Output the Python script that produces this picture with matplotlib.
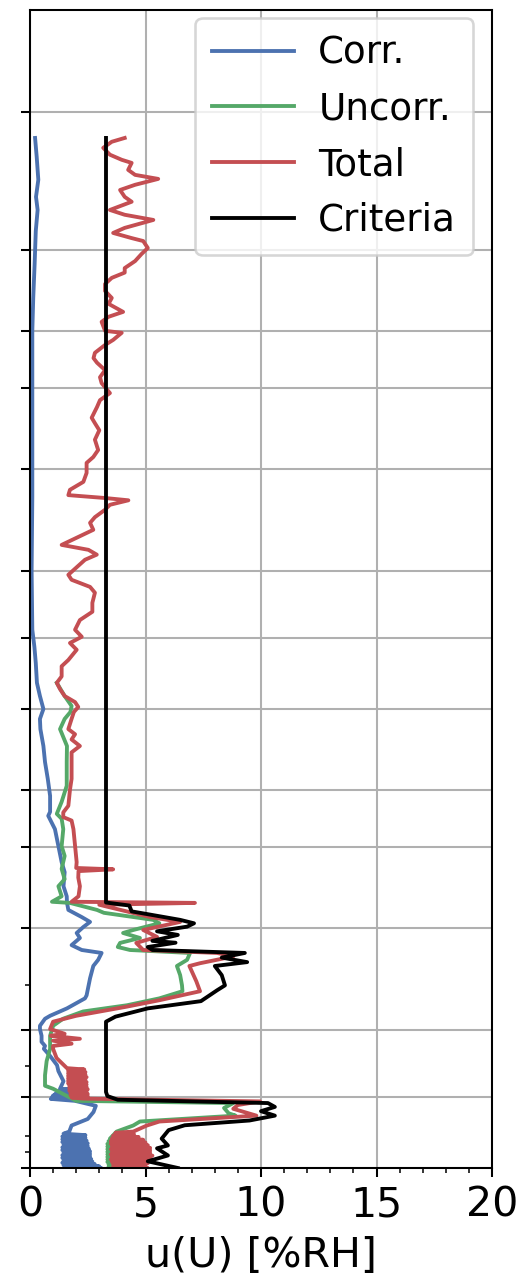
import matplotlib
matplotlib.use("Agg")
import matplotlib.pyplot as plt
from matplotlib.ticker import FixedLocator, NullFormatter

# ---------------- data (pressure in hPa, uncertainty in %RH) ----------------
corr_p = [5.70, 6.27, 7.03, 7.66, 8.18, 9.09, 10.73, 12.72, 15.0, 20.9, 24.7, 34.5,
          50.0, 67.2, 73.2, 79.4, 87.7, 93.7, 100.0, 105.1, 110.6, 120.4, 130.5,
          142, 154.6, 167.5, 170.9, 182.7, 199, 215.6, 226.7, 243.3, 255.9, 264,
          274, 284, 291, 298.5, 307.6, 315.4, 326.9, 335, 340, 352, 363, 386,
          420.6, 427, 449, 466, 473, 490, 498, 515, 531, 542, 550, 570, 597, 615,
          647, 672,
          674, 677, 680, 683, 686, 689, 692, 695, 698, 701, 704, 707,
          714, 732, 755, 782, 808, 833,
          842, 848, 854, 860, 866, 872, 878, 884, 890, 896, 902, 908, 914, 920,
          926, 932, 938, 944, 950, 956, 962, 968, 974, 980, 986, 992, 998, 1000]
corr_v = [0.22, 0.29, 0.36, 0.26, 0.33, 0.25, 0.20, 0.14, 0.10, 0.10, 0.10, 0.10,
          0.07, 0.10, 0.19, 0.25, 0.30, 0.43, 0.58, 0.43, 0.45, 0.58, 0.65,
          0.77, 0.87, 0.87, 0.79, 1.08, 1.23, 1.37, 1.50, 1.45, 1.59, 1.60,
          1.66, 2.24, 2.60, 2.31, 2.02, 2.16, 1.80, 2.24, 3.10, 2.95, 2.74, 2.60,
          2.45, 2.38, 1.60, 0.87, 0.65, 0.43, 0.43, 0.50, 0.50, 0.65, 0.60, 0.87,
          1.17, 1.23, 1.45, 1.30,
          1.80, 1.30, 1.85, 1.20, 1.90, 1.10, 1.90, 1.00, 1.95, 0.95, 1.95, 0.90,
          1.95, 2.85, 2.75, 2.50, 1.80, 1.70,
          1.45, 2.40, 1.40, 2.40, 1.40, 2.45, 1.40, 2.50, 1.45, 2.50, 1.40, 2.55,
          1.40, 2.60, 1.45, 2.60, 1.40, 2.60, 1.40, 2.65, 1.45, 2.70, 1.40, 2.80,
          1.45, 3.00, 1.50, 3.05]

uncorr_p = [87.7, 93.7, 98.5, 101.5, 105.1, 110.6, 120.4, 130.5, 147, 159.3, 169.2,
            173.4, 182.7, 199, 209, 223, 234.8, 243.3, 255.9, 263, 264.5, 274,
            278, 288, 293, 303, 307.6, 315.4, 323.3, 330, 335, 340, 352, 363, 380,
            400, 412, 427, 442, 456, 473, 490, 515, 550, 585, 628, 662, 672, 697,
            714, 722, 740, 760, 769, 792, 808, 833, 863,
            868, 874, 880, 886, 892, 898, 904, 910, 916, 922, 928, 934, 940, 946,
            952, 958, 964, 970, 976, 982, 988, 994, 1000]
uncorr_v = [1.16, 1.50, 1.80, 1.75, 1.50, 1.30, 1.60, 1.59, 1.59, 1.37, 1.16,
            1.37, 1.44, 1.37, 1.50, 1.37, 1.50, 1.23, 1.37, 0.95, 1.73, 2.90,
            3.20, 5.33, 5.60, 4.47, 4.03, 4.76, 3.90, 3.80, 4.33, 6.93, 6.80, 6.36, 6.50,
            6.58, 6.60, 5.60, 4.20, 2.30, 1.43, 1.00, 0.87, 0.87, 0.72, 0.65, 0.65, 1.00, 1.60,
            2.00, 8.80, 8.40, 8.60, 8.90, 4.76, 4.47, 3.75, 3.46,
            4.30, 3.40, 4.30, 3.35, 4.30, 3.35, 4.35, 3.35, 4.35, 3.35, 4.40, 3.35,
            4.40, 3.35, 4.40, 3.35, 4.40, 3.35, 4.40, 3.40, 4.40, 3.40, 3.40]

total_p = [5.70, 5.81, 5.99, 6.20, 6.36, 6.46, 6.69, 6.86, 7.00, 7.21, 7.40, 7.66,
           7.85, 8.18, 8.38, 8.60, 8.95, 9.18, 9.42, 9.56, 9.90, 10.2, 10.57, 10.95,
           11.2, 11.5, 11.86, 12.28, 12.72, 13.1, 13.64, 13.98, 14.34, 15.0, 15.15,
           15.7, 16.1, 16.75, 17.2, 17.6, 18.27, 18.93, 19.5, 20.5, 21.24, 21.99,
           23.2, 23.84, 24.7, 25.9, 27.27, 28.25, 29.1, 30.6, 32.0, 33.3, 34.2,
           34.7, 35.1, 35.9, 36.8, 38.2, 39.3, 40.7, 42.2, 43.9, 45.0, 46.1, 47.3,
           49.1, 51.0, 52.3, 54.2, 55.8, 58.7, 61.4, 64.0, 67.2, 69.6, 71.8, 74.3,
           78.2, 80.7, 84.9, 87.7, 90.5, 93.7, 96.6, 99.0, 101.5, 105.1, 110.6,
           113.5, 116.5, 120.4, 124.3, 130.5, 142, 150, 162.5, 168, 172, 175, 182.7,
           199, 215.6, 222, 223.5, 225.5, 233, 243.3, 255.9, 263, 264.5, 267, 269.5,
           284, 291, 303, 313.7, 323.3, 335, 340, 346, 358, 363, 392, 412, 431, 445,
           466, 480, 498, 510, 515, 523, 528, 536, 542, 550, 576,
           606, 610, 614, 618, 622, 626, 630, 634, 638, 642, 646, 650, 654, 658,
           662, 666, 670, 674, 678, 682, 686, 690, 694, 698, 702, 706,
           716, 729, 743, 769, 792, 808, 833,
           838, 844, 850, 856, 862, 868, 874, 880, 886, 892, 898, 904, 910, 916,
           922, 928, 934, 940, 946, 952, 958, 964, 970, 976, 982, 988, 994, 1000]
total_v = [4.10, 3.54, 3.17, 3.46, 3.97, 4.40, 4.25, 4.55, 5.55, 4.55, 3.90, 4.10,
           4.40, 3.46, 4.10, 5.34, 4.10, 3.60, 4.40, 4.90, 5.10, 4.83, 4.55, 4.10,
           4.10, 3.54, 3.25, 3.25, 3.54, 3.40, 4.03, 3.40, 3.10, 3.25, 3.97,
           3.60, 3.25, 2.81, 2.75, 2.90, 3.25, 3.03, 3.10, 3.46, 3.03, 2.90,
           2.67, 2.81, 3.00, 2.81, 2.95, 2.74, 2.45, 2.45, 2.31, 1.73, 1.66,
           3.25, 4.26, 3.46, 3.25, 2.81, 2.60, 2.74, 2.09, 1.37, 2.53, 2.89, 2.38,
           2.02, 1.66, 1.80, 2.60, 2.81, 2.70, 2.70, 2.16, 1.95, 2.24, 1.73, 2.02,
           1.66, 1.37, 1.37, 1.16, 1.30, 1.50, 1.95, 2.09, 1.90, 1.80, 1.66,
           1.95, 1.80, 2.16, 1.80, 1.80, 1.80, 1.73, 1.66, 1.44, 1.44, 1.80, 1.88,
           1.95, 2.02, 2.00, 3.60, 2.10, 2.09, 2.16, 2.10, 1.80, 7.14, 3.00, 3.33,
           5.20, 6.50, 4.90, 5.50, 4.60, 4.90, 8.10, 8.80, 7.36, 6.90, 7.20, 7.36, 5.60, 4.20,
           2.00, 1.00, 0.87, 1.50, 0.90, 2.16, 1.00, 1.80, 1.00, 1.00, 1.15,
           1.60, 2.35, 1.65, 2.40, 1.65, 2.40, 1.65, 2.45, 1.65, 2.40, 1.65, 2.45, 1.65, 2.45,
           1.70, 2.45, 1.70, 2.50, 1.70, 2.45, 1.75, 2.50, 1.75, 2.50, 1.80, 2.30,
           9.96, 9.00, 8.80, 9.80, 5.60, 5.06, 4.47,
           3.70, 4.50, 3.60, 4.70, 3.55, 4.90, 3.50, 5.00, 3.50, 5.10, 3.55, 5.20, 3.50,
           5.20, 3.55, 5.20, 3.50, 5.30, 3.55, 5.20, 3.50, 5.10, 3.55, 5.10, 3.60, 5.00,
           3.60, 5.06]

crit_p = [5.70, 264, 268, 276, 288, 293, 298, 305, 310.6, 320, 323, 330, 335, 340,
          348, 356, 363, 380, 400, 410, 433, 449, 468, 480, 683, 697, 710, 722,
          736, 752, 769, 788, 807, 827, 863, 893, 906, 939, 967, 1000]
crit_v = [3.29, 3.29, 4.30, 4.40, 6.50, 7.10, 6.80, 5.50, 6.40, 5.30, 6.30, 5.10, 5.30,
          9.30, 8.30, 9.40, 8.00, 8.30, 8.44, 8.10, 7.40, 5.10, 3.70, 3.29, 3.29,
          3.35, 3.80, 10.30, 10.60, 10.00, 10.60, 9.50, 6.70, 6.00, 5.70, 5.97,
          5.50, 5.97, 5.10, 6.40]

labels = ["Corr.", "Uncorr.", "Total", "Criteria"]
colors = ["#4C72B0", "#55A868", "#C44E52", "black"]

p_major = [5, 10, 15, 20, 30, 50, 70, 100, 150, 200, 300, 500, 700, 1000]
p_minor = [400, 600, 850, 925]
x_major = [0, 5, 10, 15, 20]
x_minor = list(range(0, 21))

# ---------------- figure ----------------
plt.rcParams["font.family"] = ["DejaVu Sans"]
DPI = 185
fig = plt.figure(figsize=(519 / DPI, 1283 / DPI), dpi=DPI)
ax = fig.add_axes([30 / 519, 115 / 1283, 462 / 519, 1158 / 1283])

series = [(corr_v, corr_p), (uncorr_v, uncorr_p), (total_v, total_p), (crit_v, crit_p)]
for (v, p), lab, c in zip(series, labels, colors):
    ax.plot(v, p, color=c, lw=1.5, label=lab)

ax.set_yscale("log")
ax.set_ylim(1000, 3.0)
ax.yaxis.set_major_locator(FixedLocator(p_major))
ax.yaxis.set_minor_locator(FixedLocator(p_minor))
ax.yaxis.set_major_formatter(NullFormatter())
ax.yaxis.set_minor_formatter(NullFormatter())

ax.set_xlim(0, 20)
ax.xaxis.set_major_locator(FixedLocator(x_major))
ax.xaxis.set_minor_locator(FixedLocator(x_minor))
ax.tick_params(axis="both", which="major", labelsize=16)

ax.grid(True, which="major", color="#b0b0b0", lw=0.8)
ax.set_axisbelow(True)
ax.set_xlabel("u(U) [%RH]", fontsize=16)
ax.legend(loc="upper right", bbox_to_anchor=(443 / 462, 1 - 8 / 1158),
          borderaxespad=0, fontsize=14.5, borderpad=0.45, handlelength=2.2,
          handletextpad=0.65)

fig.savefig("out.png", dpi=DPI)
